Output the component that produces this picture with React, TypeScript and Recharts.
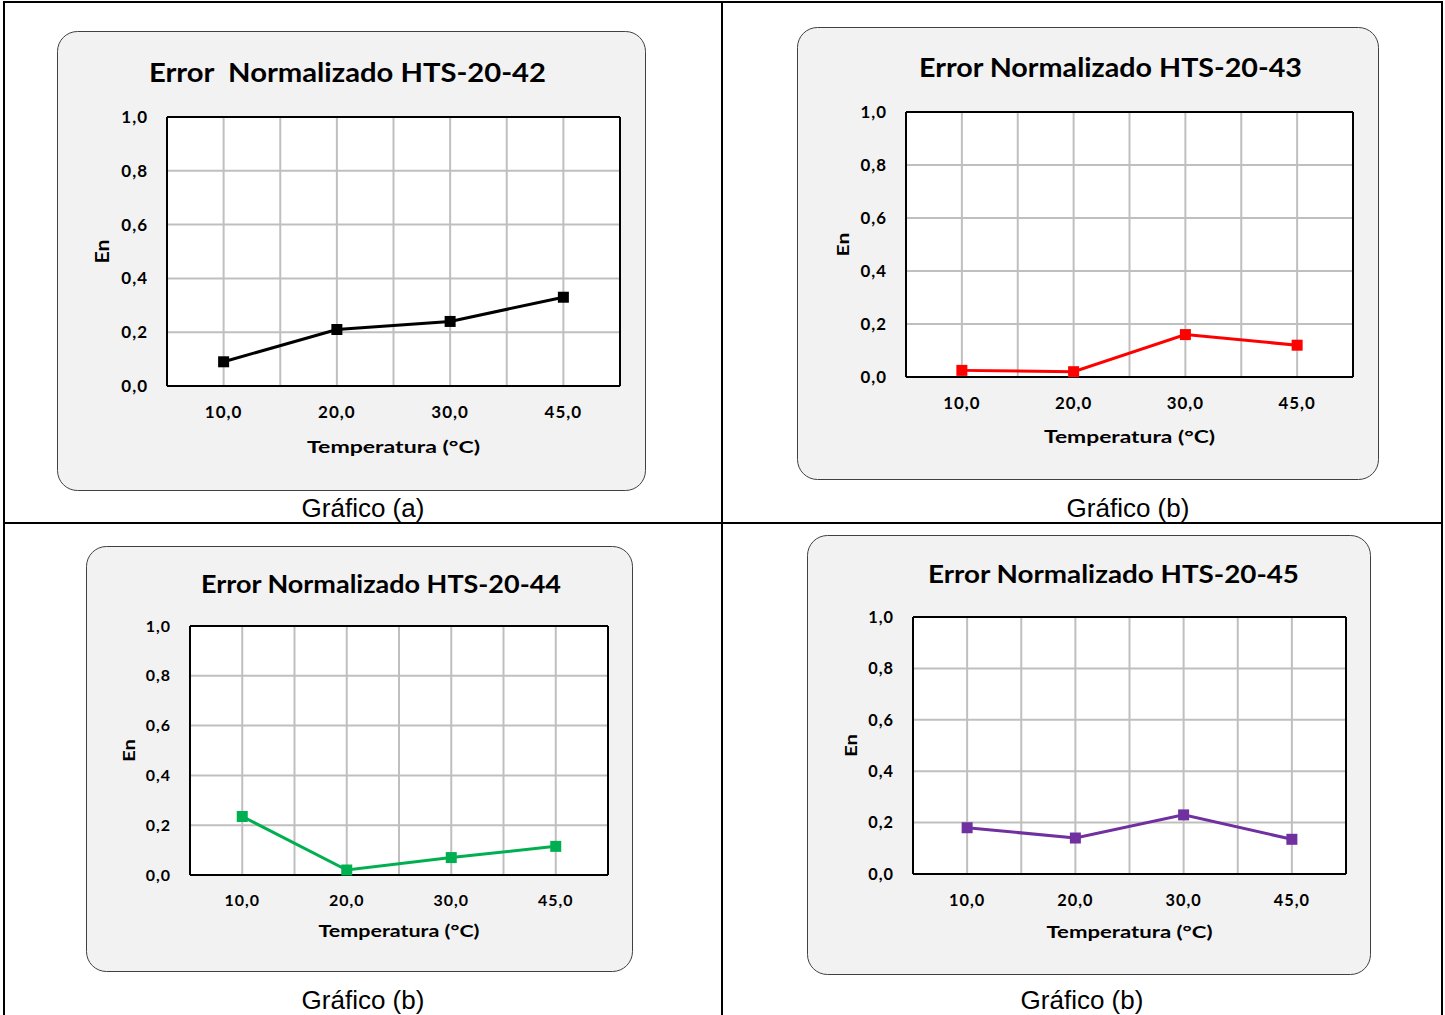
import React from 'react';
import { LineChart, Line, XAxis, YAxis, CartesianGrid } from 'recharts';

// ---- data ----
const temperaturas = ['10,0', '20,0', '30,0', '45,0'];
const en42 = [0.09, 0.21, 0.24, 0.33];
const en43 = [0.025, 0.02, 0.16, 0.12];
const en44 = [0.235, 0.02, 0.07, 0.115];
const en45 = [0.18, 0.14, 0.23, 0.135];
const yTicks = [0, 0.2, 0.4, 0.6, 0.8, 1];
// vertical gridlines every half category (Excel style): step i of 2 * categories
const halfSteps = [1, 2, 3, 4, 5, 6, 7];

const FONT = 'Lato, "Open Sans", sans-serif';

const panels = [
  {
    title: 'Error  Normalizado HTS-20-42', values: en42, color: '#000000', caption: 'Gráfico (a)',
    box: { x: 57, y: 31, w: 588, h: 459 }, plot: { l: 167, t: 117, r: 620, b: 386 },
    titleCx: 347.5, titleBase: 82, titleW: 397, enX: 102, xTitleBase: 453, xTitleW: 173, fs: 1,
    captionCx: 363, captionBase: 517,
  },
  {
    title: 'Error Normalizado HTS-20-43', values: en43, color: '#ff0000', caption: 'Gráfico (b)',
    box: { x: 797, y: 27, w: 581, h: 452 }, plot: { l: 906, t: 112, r: 1353, b: 377 },
    titleCx: 1110.5, titleBase: 77, titleW: 383, enX: 842, xTitleBase: 443, xTitleW: 171, fs: 0.99,
    captionCx: 1128, captionBase: 517,
  },
  {
    title: 'Error Normalizado HTS-20-44', values: en44, color: '#00b050', caption: 'Gráfico (b)',
    box: { x: 86, y: 546, w: 546, h: 425 }, plot: { l: 190, t: 626, r: 608, b: 875 },
    titleCx: 381, titleBase: 593, titleW: 360, enX: 128, xTitleBase: 937, xTitleW: 161, fs: 0.94,
    captionCx: 363, captionBase: 1009,
  },
  {
    title: 'Error Normalizado HTS-20-45', values: en45, color: '#7030a0', caption: 'Gráfico (b)',
    box: { x: 807, y: 535, w: 563, h: 439 }, plot: { l: 913, t: 617, r: 1346, b: 874 },
    titleCx: 1113.5, titleBase: 583, titleW: 371, enX: 850, xTitleBase: 938, xTitleW: 166, fs: 0.96,
    captionCx: 1082, captionBase: 1009,
  },
];

const fmt = (v: number) => v.toFixed(1).replace('.', ',');

function Panel({ p }: { p: any }) {
  const { box, plot } = p;
  const yAxisW = 60;
  const xAxisH = p.xTitleBase - plot.b;
  const data = temperaturas.map((t, i) => ({ temp: t, en: p.values[i] }));
  const tickStyle = { fontFamily: FONT, fontWeight: 700, fontSize: 17 * p.fs, fill: '#000', letterSpacing: 1 };
  const enX = p.enX - box.x;
  const enY = (plot.t + plot.b) / 2 - box.y;
  const xtX = (plot.l + plot.r) / 2 - box.x;
  const xtY = p.xTitleBase - box.y;
  const border = { stroke: '#000', strokeWidth: 2 };
  const halves = temperaturas.length * 2;

  return (
    <div style={{ position: 'absolute', left: box.x, top: box.y }}>
      <LineChart
        width={box.w}
        height={box.h}
        data={data}
        margin={{
          top: plot.t - box.y - 1,
          right: box.x + box.w - plot.r - 1,
          bottom: box.y + box.h - plot.b - xAxisH,
          left: plot.l - box.x - yAxisW,
        }}
      >
        <CartesianGrid
          fill="#fff"
          stroke="#bfbfbf"
          strokeWidth={2}
          verticalCoordinatesGenerator={({ offset }: any) =>
            halfSteps.map((s) => offset.left + (offset.width * s) / halves)
          }
        />
        <XAxis
          dataKey="temp"
          scale="band"
          interval={0}
          height={xAxisH}
          tickLine={false}
          tickSize={0}
          tickMargin={20}
          tick={tickStyle}
          axisLine={border}
          label={{
            content: () => (
              <text
                x={xtX}
                y={xtY}
                textAnchor="middle"
                textLength={p.xTitleW}
                lengthAdjust="spacingAndGlyphs"
                fontFamily={FONT}
                fontWeight={700}
                fontSize={17.5 * p.fs}
                fill="#000"
              >
                Temperatura (°C)
              </text>
            ),
          }}
        />
        {/* top edge of the plot frame */}
        <XAxis
          xAxisId="top"
          dataKey="temp"
          scale="band"
          orientation="top"
          height={1}
          tick={false}
          tickLine={false}
          axisLine={border}
        />
        <YAxis
          domain={[0, 1]}
          ticks={yTicks}
          width={yAxisW}
          tickLine={false}
          tickSize={0}
          tickMargin={19}
          tick={tickStyle}
          tickFormatter={fmt}
          axisLine={border}
          label={{
            content: () => (
              <text
                x={enX}
                y={enY}
                transform={`rotate(-90 ${enX} ${enY})`}
                textAnchor="middle"
                dominantBaseline="central"
                textLength={24 * p.fs}
                lengthAdjust="spacingAndGlyphs"
                fontFamily={FONT}
                fontWeight={700}
                fontSize={18 * p.fs}
                fill="#000"
              >
                En
              </text>
            ),
          }}
        />
        {/* right edge of the plot frame */}
        <YAxis
          yAxisId="edge"
          orientation="right"
          domain={[0, 1]}
          width={1}
          tick={false}
          tickLine={false}
          axisLine={border}
        />
        <Line
          type="linear"
          dataKey="en"
          stroke={p.color}
          strokeWidth={3}
          isAnimationActive={false}
          dot={(d: any) => (
            <rect key={d.index} x={d.cx - 5.5} y={d.cy - 5.5} width={11} height={11} fill={p.color} />
          )}
          activeDot={false}
        />
      </LineChart>
    </div>
  );
}

export default function App() {
  return (
    <div style={{ position: 'absolute', left: 0, top: 0, width: 1445, height: 1015, background: '#fff', overflow: 'hidden' }}>
      <svg width={1445} height={1015} style={{ position: 'absolute', left: 0, top: 0 }}>
        <rect x={4} y={2} width={1438} height={1030} fill="none" stroke="#000" strokeWidth={2} />
        <line x1={722} y1={2} x2={722} y2={1015} stroke="#000" strokeWidth={2} />
        <line x1={4} y1={523} x2={1442} y2={523} stroke="#000" strokeWidth={2} />
        {panels.map((p) => (
          <g key={p.title}>
            <rect
              x={p.box.x + 0.5}
              y={p.box.y + 0.5}
              width={p.box.w}
              height={p.box.h}
              rx={20}
              fill="#f2f2f2"
              stroke="#404040"
              strokeWidth={1}
            />
            <text
              x={p.titleCx}
              y={p.titleBase}
              textAnchor="middle"
              textLength={p.titleW}
              lengthAdjust="spacingAndGlyphs"
              fontFamily={FONT}
              fontWeight={700}
              fontSize={26 * p.fs}
              fill="#000"
              style={{ whiteSpace: 'pre' }}
            >
              {p.title}
            </text>
            <text
              x={p.captionCx}
              y={p.captionBase}
              textAnchor="middle"
              fontFamily='"Liberation Sans", Arial, sans-serif'
              fontSize={26}
              fill="#000"
            >
              {p.caption}
            </text>
          </g>
        ))}
      </svg>
      {panels.map((p) => (
        <Panel key={p.title} p={p} />
      ))}
    </div>
  );
}
